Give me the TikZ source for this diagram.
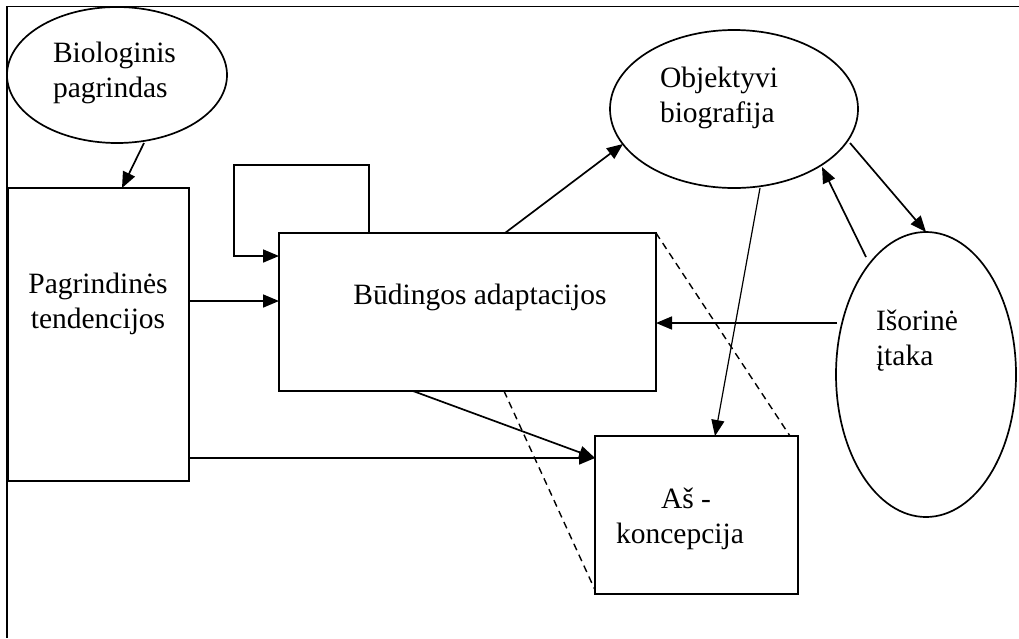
\documentclass[tikz,border=0pt]{standalone}
\usepackage{fontspec}
\setmainfont{Liberation Serif}
\usetikzlibrary{shapes.geometric,arrows.meta,calc}
\begin{document}
\begin{tikzpicture}[x=1pt,y=-1pt,
  line width=1.7pt,
  every node/.style={inner sep=0pt,outer sep=0pt},
  oval/.style={draw,ellipse,line width=1.7pt},
  box/.style={draw,rectangle,line width=1.7pt},
  lbl/.style={font=\fontsize{29.5}{35}\selectfont},
  arr/.style={-{Triangle[length=16pt,width=13pt]}},
  dsh/.style={line width=1.4pt,dash pattern=on 7pt off 5pt}
]
\useasboundingbox (0,0) rectangle (1019,638);
\draw (1019,6.5) -- (7,6.5) -- (7,638);

\node[oval,minimum width=220pt,minimum height=136pt] (bio) at (117,75) {};
\node[lbl,align=left,anchor=west] (bioT) at (53,73) {Biologinis\\pagrindas};

\node[box,minimum width=181pt,minimum height=293pt] (pag) at (98.5,334.5) {};
\node[lbl,align=center] (pagT) at (98,304) {Pagrindinės\\tendencijos};

\node[box,minimum width=377pt,minimum height=158pt] (bud) at (467.5,312) {};
\node[lbl] (budT) at (480,297) {Būdingos adaptacijos};

\node[box,minimum width=203pt,minimum height=158pt] (as) at (696.5,515) {};
\node[lbl,align=center] (asT) at (680,518.5) {\kern12pt Aš -\\koncepcija};

\node[oval,minimum width=248pt,minimum height=158pt] (obj) at (734,109) {};
\node[lbl,align=left,anchor=west] (objT) at (660,97.7) {Objektyvi\\biografija};

\node[oval,minimum width=180pt,minimum height=285pt] (isor) at (926,374.5) {};
\node[lbl,align=left,anchor=west] (isorT) at (876,341) {Išorinė\\įtaka};

% connectors
\draw[arr] ($(bio.center)+(27,68)$) -- ($(pag.north)+(23.5,0)$);
\draw[arr] ($(bud.north west)+(90,0)$) -- ++(0,-68) -- ++(-135,0) |- ($(bud.north west)+(0,23)$);
\coordinate (p1) at ($(pag.east)+(0,-33.5)$);
\draw[arr] (p1) -- (bud.west |- p1);
\coordinate (p2) at ($(pag.east)+(0,123.5)$);
\draw[arr] (p2) -- (as.west |- p2);
\draw[arr] ($(bud.south)+(-54.5,0)$) -- (as.west |- p2);
\draw[dsh] ($(bud.south)+(36.5,0)$) -- ($(as.south west)+(0,-4)$);
\draw[dsh] (bud.north east) -- ($(as.north east)+(-8,0)$);
\draw[arr] ($(bud.north)+(37.5,0)$) -- ($(obj.center)+(-111,35)$);
\draw[arr,line width=1.2pt] ($(obj.south)+(26,0)$) -- ($(as.north)+(18.5,0)$);
\draw[arr] ($(obj.center)+(116,34)$) -- (isor.north);
\draw[arr] ($(isor.center)+(-60,-117.5)$) -- ($(obj.center)+(88,58)$);
\coordinate (p3) at ($(isor.west)+(1,-51.5)$);
\draw[arr] (p3) -- (bud.east |- p3);
\end{tikzpicture}
\end{document}
